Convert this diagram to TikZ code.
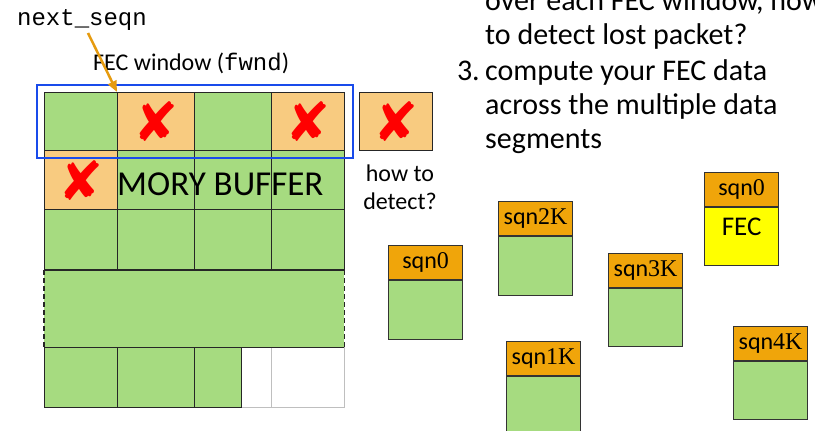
\documentclass[tikz,border=0pt]{standalone}
\usepackage{fontspec}
\setmainfont{Carlito}
\newfontfamily\monof{Liberation Mono}
\newfontfamily\serifn{Liberation Serif}
\newfontfamily\symf{DejaVu Sans}
\usetikzlibrary{arrows.meta}
\definecolor{cgreen}{RGB}{166,219,128}
\definecolor{corange}{RGB}{248,203,128}
\definecolor{chdr}{RGB}{240,165,10}
\definecolor{wblue}{RGB}{25,75,235}
\definecolor{arrorange}{RGB}{230,155,15}
\definecolor{cyel}{RGB}{255,255,0}
\tikzset{
  cell/.style={draw=black!85, line width=1.2pt, inner sep=0pt, anchor=north west},
  gcell/.style={cell, fill=cgreen},
  ocell/.style={cell, fill=corange},
  wcell/.style={draw=black!25, line width=1.2pt, fill=white, inner sep=0pt, anchor=north west},
  xmark/.style={text=red, font=\symf\fontsize{54}{54}\selectfont, inner sep=0pt},
  hdr/.style={draw=black!80, line width=1.2pt, fill=chdr, inner sep=0pt, anchor=north west, minimum width=74pt, minimum height=34pt, font=\fontsize{24}{24}\selectfont},
  pbody/.style={draw=black!80, line width=1.2pt, fill=cgreen, inner sep=0pt, anchor=north, minimum width=74pt},
  rtext/.style={anchor=base west, inner sep=0pt, font=\fontsize{30}{34}\selectfont},
}
\begin{document}
\begin{tikzpicture}[x=1pt,y=-1pt]
\useasboundingbox (0,0) rectangle (815,431);
% row 1
\node[gcell, minimum width=73pt, minimum height=58pt] (r1c1) at (44,92) {};
\node[ocell, minimum width=77pt, minimum height=58pt] (r1c2) at (117,92) {};
\node[gcell, minimum width=77pt, minimum height=58pt] (r1c3) at (194,92) {};
\node[ocell, minimum width=73pt, minimum height=58pt] (r1c4) at (271,92) {};
% row 2
\node[gcell, minimum width=77pt, minimum height=59pt] (r2c2) at (117,150) {};
\node[gcell, minimum width=77pt, minimum height=59pt] (r2c3) at (194,150) {};
\node[gcell, minimum width=73pt, minimum height=59pt] (r2c4) at (271,150) {};
\node[anchor=base west, inner sep=0pt, font=\fontsize{35}{35}\selectfont] (mem) at (117,195) {\llap{ME}MORY BUFFER};
\node[ocell, minimum width=73pt, minimum height=59pt] (r2c1) at (44,150) {};
% row 3
\node[gcell, minimum width=73pt, minimum height=61pt] (r3c1) at (44,209) {};
\node[gcell, minimum width=77pt, minimum height=61pt] (r3c2) at (117,209) {};
\node[gcell, minimum width=77pt, minimum height=61pt] (r3c3) at (194,209) {};
\node[gcell, minimum width=73pt, minimum height=61pt] (r3c4) at (271,209) {};
% bottom row
\node[wcell, minimum width=30pt, minimum height=60pt] (r5c4) at (241,347) {};
\node[wcell, minimum width=73pt, minimum height=60pt] (r5c5) at (271,347) {};
\node[gcell, minimum width=73pt, minimum height=60pt] (r5c1) at (44,347) {};
\node[gcell, minimum width=77pt, minimum height=60pt] (r5c2) at (117,347) {};
\node[gcell, minimum width=47pt, minimum height=60pt] (r5c3) at (194,347) {};
% dashed row
\node[fill=cgreen, inner sep=0pt, anchor=north west, minimum width=300pt, minimum height=77pt] (r4) at (44,270) {};
\draw[black!85, line width=1.2pt] (r4.north west) -- (r4.north east) (r4.south west) -- (r4.south east);
\draw[black!85, line width=1.2pt, dashed, dash pattern=on 5pt off 3pt] (r4.north west) -- (r4.south west) (r4.north east) -- (r4.south east);
% x marks
\node[xmark] (x1) at (r1c2) {✘};
\node[xmark] (x2) at (r1c4) {✘};
\node[xmark] (x3) at (r2c1) {✘};
% FEC window
\node[draw=wblue, line width=2pt, inner sep=0pt, anchor=north west, minimum width=316pt, minimum height=73pt] (fwnd) at (36,84) {};
\node[anchor=base west, inner sep=0pt, font=\fontsize{24}{24}\selectfont] (fwlabel) at (93,70) {FEC window ({\monof fwnd})};
% next_seqn
\node[anchor=base west, inner sep=0pt, font=\monof\fontsize{24}{24}\selectfont] (nseq) at (17,25) {next\_seqn};
\coordinate (nsarrow) at (88,33);
\draw[arrorange, line width=2.5pt, -{Triangle[length=11pt,width=9pt]}] (nsarrow) -- (r1c2.north west);
% extra box
\node[ocell, minimum width=73pt, minimum height=58pt] (extra) at (359,92) {};
\node[xmark] (x4) at (extra) {✘};
\node[align=center, inner sep=0pt, font=\fontsize{24}{28}\selectfont] (howto) at (400,187) {how to\\detect?};
% right text
\node[rtext] (t1) at (485,10) {over each FEC window, how};
\node[rtext] (t2) at (485,45) {to detect lost packet?};
\node[rtext, anchor=base east] (t3n) at (480,80) {3.};
\node[rtext] (t3) at (485,80) {compute your FEC data};
\node[rtext] (t4) at (485,114) {across the multiple data};
\node[rtext] (t5) at (485,148) {segments};
% packets
\node[hdr] (hA) at (388,245) {sqn{\serifn 0}};
\node[pbody, minimum height=59pt] (bA) at (hA.south) {};
\node[hdr] (hB) at (498,201) {sqn{\serifn 2K}};
\node[pbody, minimum height=59pt] (bB) at (hB.south) {};
\node[hdr] (hC) at (608,253) {sqn{\serifn 3K}};
\node[pbody, minimum height=58pt] (bC) at (hC.south) {};
\node[hdr] (hD) at (704,172) {sqn{\serifn 0}};
\node[pbody, fill=cyel, minimum height=58pt] (bD) at (hD.south) {};
\node[inner sep=0pt, font=\fontsize{27}{27}\selectfont] (fec) at ([yshift=-20pt]hD.south) {FEC};
\node[hdr] (hE) at (506,341) {sqn{\serifn 1K}};
\node[pbody, minimum height=62pt] (bE) at (hE.south) {};
\node[hdr] (hF) at (733,326) {sqn{\serifn 4K}};
\node[pbody, minimum height=58pt] (bF) at (hF.south) {};
\end{tikzpicture}
\end{document}
